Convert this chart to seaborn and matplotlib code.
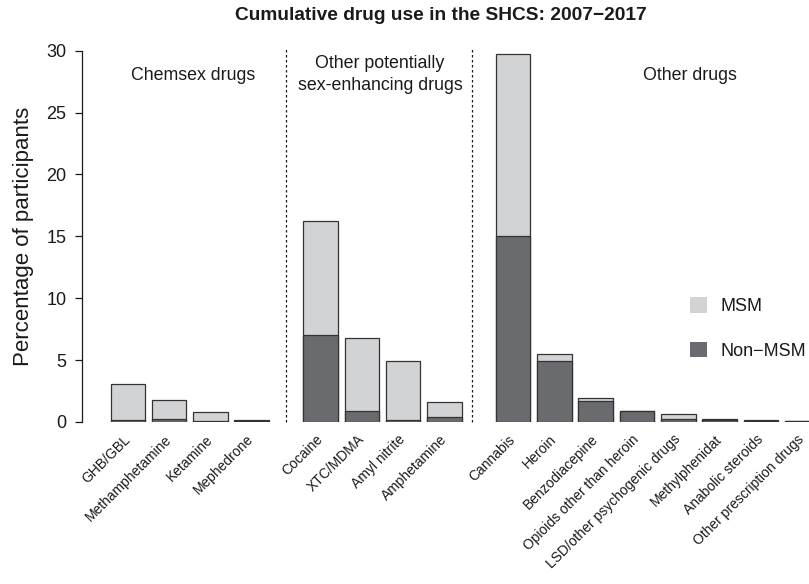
import numpy as np
import pandas as pd
import matplotlib
matplotlib.use("Agg")
import matplotlib.pyplot as plt
from matplotlib.patches import Patch
import seaborn as sns

# Drug categories and their group (0 = chemsex, 1 = other sex-enhancing, 2 = other)
drugs = ["GHB/GBL", "Methamphetamine", "Ketamine", "Mephedrone",
         "Cocaine", "XTC/MDMA", "Amyl nitrite", "Amphetamine",
         "Cannabis", "Heroin", "Benzodiacepine", "Opioids other than heroin",
         "LSD/other psychogenic drugs", "Methylphenidat", "Anabolic steroids",
         "Other prescription drugs"]
group = [0, 0, 0, 0, 1, 1, 1, 1, 2, 2, 2, 2, 2, 2, 2, 2]

# Percentage of participants, stacked: Non-MSM at the bottom, MSM on top
non_msm = [0.14, 0.27, 0.12, 0.05,
           7.0, 0.9, 0.15, 0.4,
           15.05, 4.9, 1.72, 0.85, 0.27, 0.17, 0.10, 0.08]
msm = [2.96, 1.51, 0.68, 0.15,
       9.2, 5.9, 4.8, 1.2,
       14.65, 0.57, 0.24, 0.06, 0.38, 0.05, 0.04, 0.02]

group_titles = ["Chemsex drugs", "Other potentially\nsex-enhancing drugs", "Other drugs"]
title = "Cumulative drug use in the SHCS: 2007\u22122017"
ylabel = "Percentage of participants"

LIGHT = "#d2d3d5"
DARK = "#6a6b6f"
EDGE = "#333333"
TEXT = "#1a1a1a"

sns.set_theme(style="ticks")
plt.rcParams["font.family"] = ["Liberation Sans", "DejaVu Sans"]
plt.rcParams["text.color"] = TEXT
plt.rcParams["axes.labelcolor"] = TEXT
plt.rcParams["xtick.color"] = TEXT
plt.rcParams["ytick.color"] = TEXT

# bar positions: unit spacing 1.2, extra gap between groups
pos = np.array([i * 1.2 + g * 0.8 for i, g in enumerate(group)])
df = pd.DataFrame({"pos": pos, "drug": drugs,
                   "non_msm": non_msm, "msm": msm})
df["total"] = df["non_msm"] + df["msm"]

fig = plt.figure(figsize=(8.09, 5.84), dpi=100)
ax = fig.add_axes([81.7 / 809, 1 - 422 / 584, 727.3 / 809, (422 - 50.7) / 584])

sns.barplot(data=df, x="pos", y="total", native_scale=True, width=0.835,
            color=LIGHT, saturation=1, edgecolor=EDGE, linewidth=0.9,
            errorbar=None, ax=ax)
sns.barplot(data=df, x="pos", y="non_msm", native_scale=True, width=0.835,
            color=DARK, saturation=1, edgecolor=EDGE, linewidth=0.9,
            errorbar=None, ax=ax)

ax.set_xlim(-1.34, 19.8)
ax.set_ylim(0, 30)
ax.set_yticks([0, 5, 10, 15, 20, 25, 30])
ax.set_xticks(pos)
ax.set_xticklabels(drugs, rotation=45, ha="right", va="center",
                   rotation_mode="anchor", fontsize=10)
ax.tick_params(axis="x", length=0, pad=11)
ax.tick_params(axis="y", length=5, width=0.9, labelsize=13, pad=6,
               direction="out")
ax.set_xlabel("")
ax.set_ylabel(ylabel, fontsize=16)
ax.yaxis.set_label_coords(-0.065, 0.5)

for side in ["top", "right", "bottom"]:
    ax.spines[side].set_visible(False)
ax.spines["left"].set_linewidth(0.9)
ax.spines["left"].set_color(TEXT)

# dashed separators between the drug groups
for xs in [4.6, 10.0]:
    ax.plot([xs, xs], [0, 30.2], color=TEXT, lw=0.9, ls=(0, (2, 2)),
            clip_on=False)

# group headings
ax.text(1.9, 28.0, group_titles[0], ha="center", va="center", fontsize=12.8)
ax.text(7.33, 28.1, group_titles[1], ha="center", va="center", fontsize=12.8,
        linespacing=1.4)
ax.text(16.34, 28.0, group_titles[2], ha="center", va="center", fontsize=12.8)

fig.text(441 / 809, 1 - 15 / 584, title, ha="center", va="center",
         fontsize=13.8, fontweight="bold")

handles = [Patch(facecolor=LIGHT, edgecolor="none"),
           Patch(facecolor=DARK, edgecolor="none")]
fig.legend(handles, ["MSM", "Non\u2212MSM"], loc="center left",
           bbox_to_anchor=(690 / 809, 1 - 328.5 / 584), frameon=False,
           fontsize=13, handlelength=0.95, handleheight=0.95,
           handletextpad=0.75, labelspacing=1.45, borderpad=0,
           borderaxespad=0)

fig.savefig("out.png", dpi=100)
